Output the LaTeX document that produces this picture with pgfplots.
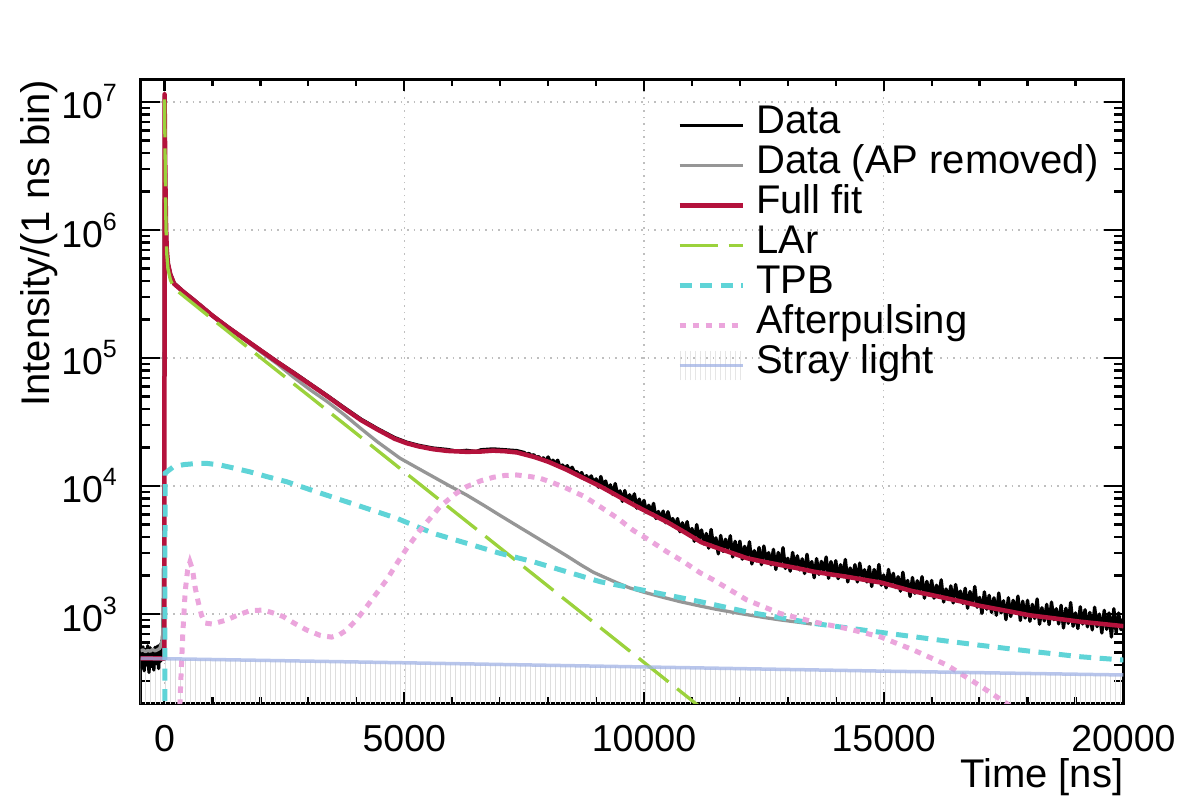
\documentclass[border=0pt]{standalone}
\usepackage{fontspec}
\setmainfont{Liberation Sans}
\usepackage{pgfplots}
\pgfplotsset{compat=1.18}
\usetikzlibrary{patterns.meta}

\definecolor{fitred}{RGB}{180,18,60}
\definecolor{apgray}{RGB}{150,150,150}
\definecolor{largreen}{RGB}{155,210,60}
\definecolor{tpbcyan}{RGB}{95,212,215}
\definecolor{appink}{RGB}{235,165,220}
\definecolor{straybase}{RGB}{160,178,228}
\definecolor{hatchgray}{RGB}{222,222,222}

% superscript exponent for the decade labels
\newcommand\tsup[1]{\raisebox{17pt}{\fontsize{25}{25}\selectfont #1}}

\tikzset{
  strayhatch/.style={pattern={Lines[angle=90,distance=5pt,line width=0.9pt]}, pattern color=hatchgray},
}
\pgfplotsset{
  datastyle/.style={black, line width=3.3pt, line join=round},
  apremstyle/.style={apgray, line width=3.3pt, line join=round},
  fitstyle/.style={fitred, line width=4.5pt, line join=round},
  larstyle/.style={largreen, line width=3.3pt, dash pattern=on 38pt off 11pt},
  tpbstyle/.style={tpbcyan, line width=5pt, dash pattern=on 12pt off 8.5pt},
  apstyle/.style={appink, line width=5pt, dash pattern=on 6.5pt off 6.5pt},
  straystyle/.style={straybase, opacity=0.75, line width=3.5pt},
  stray legend/.style={legend image code/.code={
      \foreach \hx in {1,6,...,61} {\draw[hatchgray, line width=0.9pt] (\hx pt,-15pt) -- (\hx pt,14pt);}
      \draw[##1] (0pt,0pt) -- (63pt,0pt);}},
}

\begin{document}
\begin{tikzpicture}
\path[use as bounding box] (0,0) rectangle (1182pt,800pt);
\begin{axis}[
  at={(140.6pt,96.5pt)}, anchor=south west,
  scale only axis, width=982.8pt, height=624pt,
  xmin=-500, xmax=20000,
  ymode=log, ymin=200, ymax=1.5e7,
  axis line style={line width=2.4pt, line cap=rect},
  tick style={line width=2.2pt, black},
  tick align=inside,
  major tick length=19pt, minor tick length=9.5pt,
  major x tick style={/pgfplots/major tick length=12pt},
  minor x tick style={/pgfplots/minor tick length=6.5pt},
  xtick={0,5000,10000,15000,20000},
  xticklabels={0,5000,10000,15000,20000},
  minor xtick={1000,2000,3000,4000,6000,7000,8000,9000,11000,12000,13000,14000,16000,17000,18000,19000},
  scaled x ticks=false,
  ytick={1000,10000,100000,1000000,10000000},
  yticklabels={10\tsup{3},10\tsup{4},10\tsup{5},10\tsup{6},10\tsup{7}},
  minor ytick={200,300,400,500,600,700,800,900,
    2000,3000,4000,5000,6000,7000,8000,9000,
    20000,30000,40000,50000,60000,70000,80000,90000,
    200000,300000,400000,500000,600000,700000,800000,900000,
    2000000,3000000,4000000,5000000,6000000,7000000,8000000,9000000},
  grid=major,
  major grid style={gray!50, line width=1.2pt, dash pattern=on 1.5pt off 5pt},
  tick label style={font=\fontsize{37.5}{40}\selectfont},
  xticklabel style={inner sep=0pt, yshift=-21.5pt},
  yticklabel style={inner sep=0pt, xshift=-23.5pt},
  xlabel={Time [ns]},
  ylabel={Intensity/(1 ns bin)},
  label style={font=\fontsize{40}{44}\selectfont},
  xlabel style={at={(axis description cs:1,0)}, anchor=base east, inner sep=0pt, yshift=-84.5pt},
  ylabel style={at={(axis description cs:-0.0922,1)}, anchor=base east, inner sep=0pt},
  legend cell align=left,
  legend style={draw=none, fill=none,
    at={(axis description cs:0.5458,0.9588)}, anchor=north west,
    inner sep=0pt, row sep=0pt, column sep=11pt,
    font=\fontsize{40}{44}\selectfont,
    nodes={inner sep=0pt, text height=28pt, text depth=12pt}},
  legend image code/.code={\draw[#1] (0pt,0pt) -- (63pt,0pt);},
]

% hatched band below the stray-light level
\addplot[forget plot, draw=none, strayhatch] coordinates {
  (-500,150) (-500,451) (5000,416) (10000,386) (15000,358) (20000,334) (20000,150)
};

% measured waveform (1 ns bins)
\addplot[forget plot, datastyle] coordinates {
  (-500,540) (-475,380) (-450,555) (-425,360) (-400,530) (-375,400) (-350,565) (-325,350)
  (-300,545) (-275,390) (-250,520) (-225,365) (-200,550) (-175,410) (-150,560) (-125,375)
  (-100,575) (-75,430) (-60,620) (-50,560) (-40,680) (-30,900) (-20,1800) (-12,20000)
  (-6,500000) (0,11000000) (4,11500000) (10,4600000) (20,2050000) (30,1150000) (45,730000)
  (70,560000) (120,460000) (200,385000) (400,330000) (600,288000) (1000,216000)
  (1300,178000) (1500,157000) (2000,116000) (2350,94000) (2700,77000) (3050,62500)
  (3400,50800) (3750,41000) (4100,33300) (4450,28000) (4800,23900) (5050,22000)
  (5300,20800) (5600,19800) (5900,19300) (6100,18700) (6300,19000) (6500,18600)
  (6600,19200) (6850,19500) (7100,19200) (7350,18900) (7500,18300) (7550,17600)
  (7600,18000) (7650,17200) (7700,17600) (7750,16600) (7800,17000) (7850,16100)
  (7900,16600) (7950,15600)
  (8000,16880) (8050,15210) (8100,15920) (8150,14930) (8200,15920) (8250,13980)
  (8300,14590) (8350,13760) (8400,14420) (8450,13060) (8500,14030) (8550,12850)
  (8600,12970) (8650,12090) (8700,12740) (8750,11370) (8800,12050) (8850,11210)
  (8900,12000) (8950,10610)
  (9000,11390) (9050,9780) (9100,11880) (9150,9950) (9200,10950) (9250,9240)
  (9300,10220) (9350,8580) (9400,10460) (9450,8510) (9500,9180) (9550,7590)
  (9600,9220) (9650,7600) (9700,8540) (9750,7570) (9800,8690) (9850,6710)
  (9900,7910) (9950,6680) (10000,7730) (10050,6220) (10100,7080) (10150,6190)
  (10200,7320) (10250,5580) (10300,6330) (10350,5600) (10400,6370) (10450,5170)
  (10500,6300) (10550,5260) (10600,5570) (10650,4800) (10700,5570) (10750,4390)
  (10800,5160) (10850,4430) (10900,5270) (10950,4090)
  (11000,4660) (11050,3700) (11100,5000) (11150,3860) (11200,4540) (11250,3520)
  (11300,4260) (11350,3270) (11400,4580) (11450,3390) (11500,3940) (11550,2950)
  (11600,4110) (11650,3080) (11700,3840) (11750,3210) (11800,4090) (11850,2790)
  (11900,3700) (11950,2880) (12000,3710) (12050,2680) (12100,3380) (12150,2770)
  (12200,3670) (12250,2460) (12300,3130) (12350,2600) (12400,3310) (12450,2430)
  (12500,3400) (12550,2610) (12600,3020) (12650,2420) (12700,3200) (12750,2230)
  (12800,3030) (12850,2420) (12900,3300) (12950,2270) (13000,2730) (13050,2160)
  (13100,3030) (13150,2330) (13200,2850) (13250,2210) (13300,2700) (13350,2070)
  (13400,2930) (13450,2170) (13500,2570) (13550,1920) (13600,2710) (13650,2040)
  (13700,2580) (13750,2160) (13800,2790) (13850,1900) (13900,2570) (13950,2000)
  (14000,2610) (14050,1890) (14100,2430) (14150,1990) (14200,2670) (14250,1780)
  (14300,2290) (14350,1900) (14400,2430) (14450,1780) (14500,2500) (14550,1920)
  (14600,2220) (14650,1780) (14700,2350) (14750,1640) (14800,2230) (14850,1780)
  (14900,2440) (14950,1680) (15000,2020) (15050,1600) (15100,2230) (15150,1720)
  (15200,2080) (15250,1610) (15300,1960) (15350,1510) (15400,2120) (15450,1560)
  (15500,1830) (15550,1370) (15600,1930) (15650,1450) (15700,1820) (15750,1520)
  (15800,1960) (15850,1330) (15900,1800) (15950,1400) (16000,1830) (16050,1330)
  (16100,1680) (16150,1380) (16200,1850) (16250,1240) (16300,1570) (16350,1300)
  (16400,1660) (16450,1220) (16500,1700) (16550,1310) (16600,1510) (16650,1210)
  (16700,1590) (16750,1110) (16800,1500) (16850,1200) (16900,1640) (16950,1130)
  (17000,1350) (17050,1010) (17100,1490) (17150,1090) (17200,1400) (17250,1030)
  (17300,1340) (17350,977) (17400,1460) (17450,1020) (17500,1270) (17550,904)
  (17600,1340) (17650,956) (17700,1280) (17750,1020) (17800,1380) (17850,891)
  (17900,1260) (17950,930) (18000,1280) (18050,878) (18100,1190) (18150,923)
  (18200,1310) (18250,832) (18300,1120) (18350,884) (18400,1190) (18450,827)
  (18500,1240) (18550,903) (18600,1100) (18650,837) (18700,1170) (18750,778)
  (18800,1110) (18850,845) (18900,1230) (18950,802) (19000,1020) (19050,770)
  (19100,1140) (19150,836) (19200,1080) (19250,794) (19300,1030) (19350,752)
  (19400,1130) (19450,796) (19500,1000) (19550,711) (19600,1070) (19650,759)
  (19700,1020) (19750,661) (19800,1100) (19850,715) (19900,1020) (19950,754)
  (20000,925)
};

% waveform with afterpulsing subtracted
\addplot[forget plot, apremstyle] coordinates {
  (-500,515) (-450,525) (-400,508) (-350,520) (-300,512) (-250,530) (-200,515)
  (-150,525) (-100,540) (-60,600) (-40,680) (-30,900) (-20,1800) (-12,20000)
  (-6,500000) (0,11000000) (10,4500000) (20,2000000) (30,1120000) (45,710000)
  (70,550000) (120,450000) (200,380000) (400,325000) (600,283000) (1000,212000)
  (1300,174000) (1600,145000) (2000,112000) (2350,90000) (2685,71000) (3050,56000)
  (3381,46000) (3750,36000) (4076,28500) (4450,22000) (4910,16500) (5250,14000)
  (5605,11800) (5950,10000) (6302,8500) (6650,7100) (6996,5900) (7350,4900)
  (7692,4100) (8050,3400) (8387,2850) (8700,2400) (8943,2120) (9200,1920)
  (9430,1760) (9700,1600) (10000,1480) (10400,1350) (10751,1250) (11100,1170)
  (11446,1100) (11800,1040) (12142,990) (12500,940) (12837,900) (13200,865)
  (13500,835)
};

% full fit
\addplot[forget plot, fitstyle] coordinates {
  (-500,451) (-3,449) (0,11500000) (10,4500000) (20,2000000) (30,1120000) (45,710000)
  (70,550000) (120,450000) (200,380000) (400,327000) (600,285000) (1000,214000)
  (1300,176000) (1500,156000) (2000,115000) (2350,93000) (2700,75900) (3050,61700)
  (3400,50100) (3750,40300) (4100,32700) (4450,27500) (4800,23400) (5050,21600)
  (5300,20400) (5600,19400) (5900,18800) (6300,18500) (6600,18600) (6850,18900)
  (7100,18700) (7350,18300) (7700,16900) (8000,15500) (8400,13340) (8700,11720)
  (9100,9890) (9400,8570) (9800,7080) (10100,6190) (10500,5190) (10800,4460)
  (11200,3630) (11500,3310) (11800,3030) (12150,2730) (12500,2560) (12850,2415)
  (13200,2280) (13550,2140) (13900,2040) (14250,1950) (14600,1850) (14950,1760)
  (15300,1620) (15600,1510) (15950,1420) (16300,1330) (16650,1245) (17000,1160)
  (17500,1070) (18050,977) (18500,931) (19100,871) (19500,841) (20000,804)
};

% LAr scintillation component
\addplot[forget plot, larstyle] coordinates {
  (0,10500000) (10,4200000) (20,1900000) (30,1050000) (45,660000) (70,500000)
  (120,410000) (200,350000) (500,284000) (1000,201000) (2000,101000) (3000,51000)
  (4000,25700) (5000,12900) (6000,6500) (7000,3280) (8000,1650) (9000,832)
  (10000,419) (11000,211) (12000,106)
};

% TPB delayed emission
\addplot[forget plot, tpbstyle] coordinates {
  (5,100) (10,12600) (181,14100) (400,14700) (669,15000) (900,15000) (1156,14600)
  (1450,13800) (1781,12900) (2150,11800) (2547,10800) (3173,9000) (4007,7100)
  (4841,5600) (5605,4270) (6302,3570) (6996,2980) (7692,2560) (8387,2140)
  (9083,1790) (9777,1590) (10474,1410) (11170,1250) (12142,1040) (13532,846)
  (14923,720) (16314,615) (17009,570) (18000,515) (19095,464) (20000,437)
};

% afterpulsing
\addplot[forget plot, apstyle] coordinates {
  (300,120) (330,250) (380,700) (430,1500) (480,2200) (530,2550) (580,2250)
  (640,1600) (700,1250) (770,980) (843,850) (1000,835) (1295,900) (1550,990)
  (1781,1060) (2060,1075) (2300,1010) (2477,955) (2700,850) (2964,750) (3250,680)
  (3485,660) (3650,690) (3798,750) (4000,900) (4215,1140) (4420,1450) (4633,1850)
  (4850,2500) (5050,3250) (5327,4500) (5744,6900) (6050,8600) (6302,9900)
  (6600,11000) (6857,11700) (7100,12100) (7344,12200) (7600,11900) (7831,11500)
  (8100,10600) (8387,9600) (8750,8300) (9083,6900) (9450,5600) (9777,4500)
  (10100,3800) (10474,3070) (10800,2600) (11170,2100) (11446,1850) (12142,1290)
  (12837,1010) (13532,870) (14228,770) (14923,665) (15618,524) (16314,400)
  (17009,275) (17566,200) (17900,160)
};

% stray light level
\addplot[forget plot, straystyle] coordinates {
  (-500,451) (5000,416) (10000,386) (15000,358) (20000,334)
};

\addlegendimage{datastyle}
\addlegendentry{Data}
\addlegendimage{apremstyle}
\addlegendentry{Data (AP removed)}
\addlegendimage{fitstyle}
\addlegendentry{Full fit}
\addlegendimage{larstyle}
\addlegendentry{LAr}
\addlegendimage{tpbstyle}
\addlegendentry{TPB}
\addlegendimage{apstyle}
\addlegendentry{Afterpulsing}
\addlegendimage{stray legend, straystyle}
\addlegendentry{Stray light}

\end{axis}
\end{tikzpicture}
\end{document}
